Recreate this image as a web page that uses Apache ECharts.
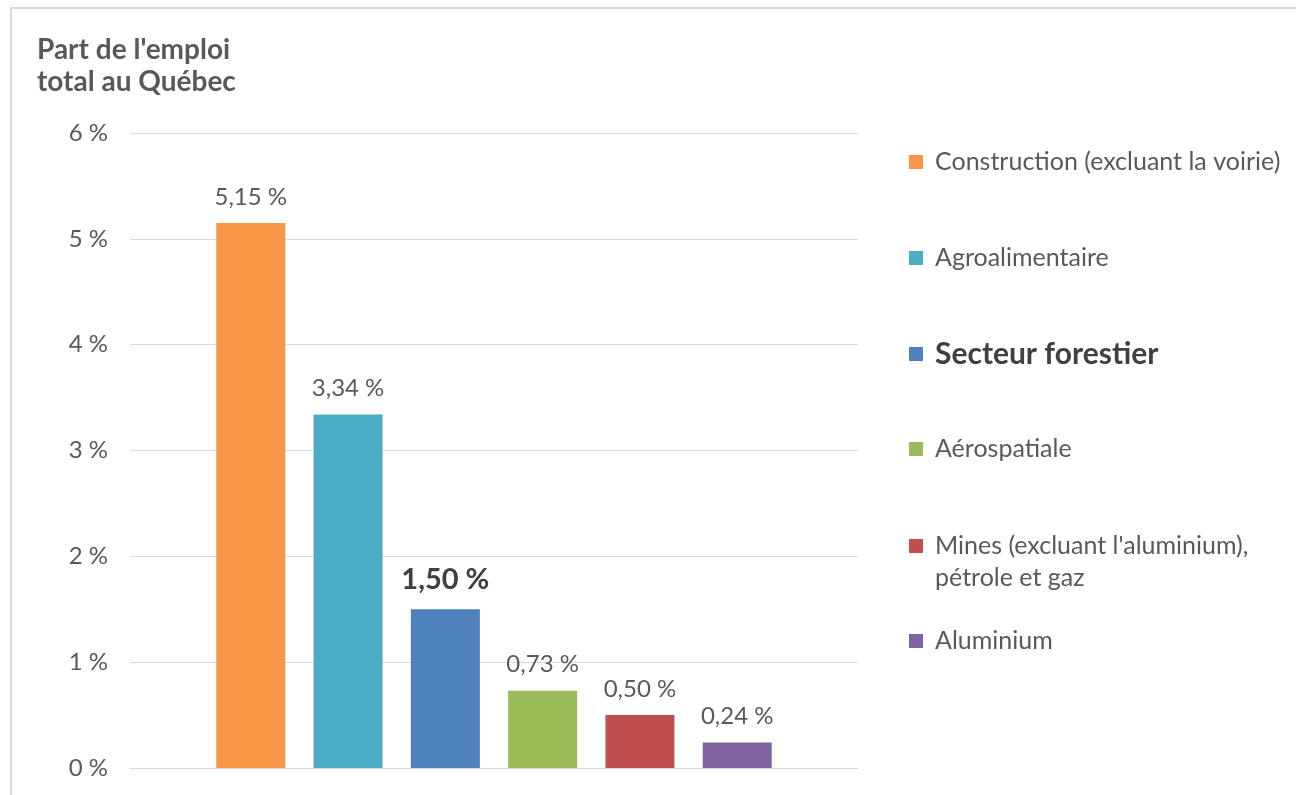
<!DOCTYPE html>
<html>
<head>
<meta charset="utf-8">
<script src="https://cdn.jsdelivr.net/npm/echarts@6/dist/echarts.min.js"></script>
<style>
html,body{margin:0;padding:0;background:#fff;}
#frame{position:absolute;left:10px;top:7px;width:1300px;height:800px;border-top:2px solid #d9d9d9;border-left:2px solid #d9d9d9;box-sizing:border-box;}
#chart{position:absolute;left:0;top:0;width:1296px;height:795px;}
</style>
</head>
<body>
<div id="frame"></div>
<div id="chart"></div>
<script>
const categories = ["Part de l'emploi total au Québec"];
const seriesNames = [
  "Construction (excluant la voirie)",
  "Agroalimentaire",
  "Secteur forestier",
  "Aérospatiale",
  "Mines (excluant l'aluminium),\npétrole et gaz",
  "Aluminium"
];
const seriesValues = [5.15, 3.34, 1.50, 0.73, 0.50, 0.24];
const seriesColors = ["#F79646", "#4BACC6", "#4F81BD", "#9BBB59", "#C0504D", "#8064A2"];
const yTicks = [0, 1, 2, 3, 4, 5, 6];
const highlighted = "Secteur forestier";

const FONT = "Lato";
const fmtPct = v => v.toFixed(2).replace('.', ',') + ' %';

const legendTops = [149, 245, 339, 436, 498, 628];

const series = seriesNames.map((name, i) => {
  const hl = name === highlighted;
  return {
    name: name,
    type: 'bar',
    data: [seriesValues[i]],
    barWidth: 69,
    barGap: '41%',
    itemStyle: { color: seriesColors[i] },
    label: {
      show: true,
      position: 'top',
      distance: hl ? 15 : 14,
      fontFamily: FONT,
      fontSize: hl ? 29 : 24,
      fontWeight: hl ? 'bold' : 'normal',
      color: hl ? '#404040' : '#595959',
      formatter: p => fmtPct(p.value)
    }
  };
});

const legends = seriesNames.map((name, i) => {
  const hl = name === highlighted;
  const multi = name.indexOf('\n') >= 0;
  return {
    show: true,
    orient: 'vertical',
    left: 909,
    top: legendTops[i],
    padding: 0,
    itemWidth: 14,
    itemHeight: 14,
    icon: 'rect',
    selectedMode: false,
    data: [name],
    formatter: n => (multi ? '\n' + n : n),
    textStyle: {
      fontFamily: FONT,
      fontSize: hl ? 30 : 25,
      fontWeight: hl ? 'bold' : 'normal',
      color: hl ? '#404040' : '#595959',
      lineHeight: multi ? 32 : (hl ? 30 : 26),
      padding: [0, 0, 0, 7]
    }
  };
});

const chart = echarts.init(document.getElementById('chart'), null, { renderer: 'canvas' });
chart.setOption({
  backgroundColor: 'transparent',
  animation: false,
  title: {
    text: "Part de l'emploi\ntotal au Québec",
    left: 37,
    top: 34,
    padding: 0,
    textStyle: {
      fontFamily: FONT,
      fontSize: 28,
      fontWeight: 'bold',
      color: '#595959',
      lineHeight: 32
    }
  },
  legend: legends,
  grid: { left: 130, right: 438, top: 133, bottom: 27, containLabel: false },
  xAxis: {
    type: 'category',
    data: categories,
    axisLabel: { show: false },
    axisTick: { show: false },
    axisLine: { show: true, lineStyle: { color: '#d9d9d9', width: 1 } }
  },
  yAxis: {
    type: 'value',
    min: yTicks[0],
    max: yTicks[yTicks.length - 1],
    interval: 1,
    axisLine: { show: false },
    axisTick: { show: false },
    splitLine: { lineStyle: { color: '#d9d9d9', width: 1 } },
    axisLabel: {
      fontFamily: FONT,
      fontSize: 24,
      color: '#595959',
      margin: 22,
      formatter: v => v + ' %'
    }
  },
  series: series
});
</script>
</body>
</html>
